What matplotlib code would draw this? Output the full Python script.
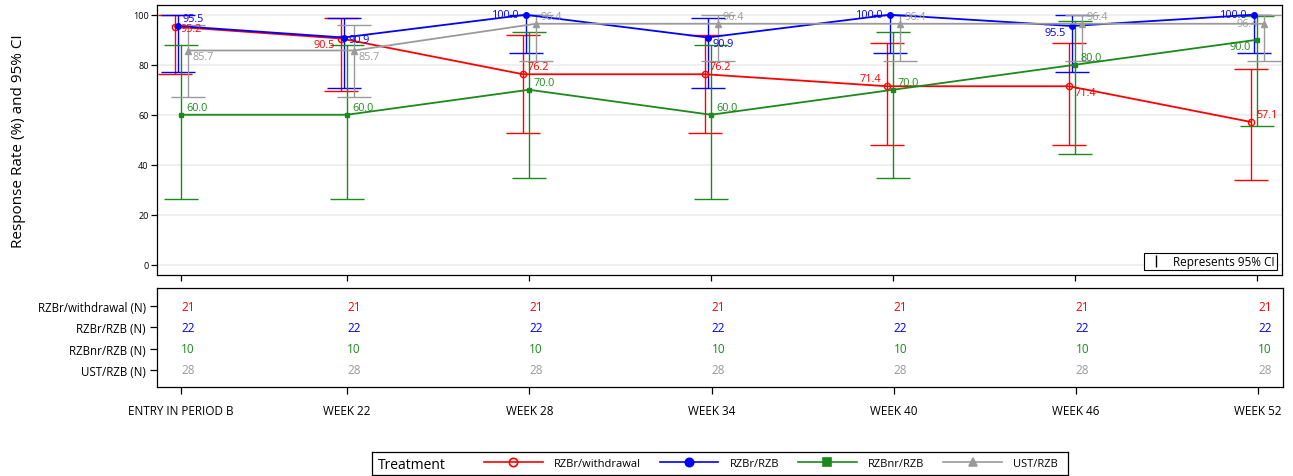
import matplotlib.pyplot as plt
from matplotlib.lines import Line2D
import numpy as np

plt.rcParams['font.family'] = ['Open Sans', 'DejaVu Sans']

visits = ['ENTRY IN PERIOD B', 'WEEK 22', 'WEEK 28', 'WEEK 34', 'WEEK 40', 'WEEK 46', 'WEEK 52']
groups = ['RZBr/withdrawal', 'RZBr/RZB', 'RZBnr/RZB', 'UST/RZB']

# response rate (%) with 95% CI bounds per visit
rate_wd = [95.2, 90.5, 76.2, 76.2, 71.4, 71.4, 57.1]
lo_wd = [76.2, 69.6, 52.8, 52.8, 47.8, 47.8, 34.0]
hi_wd = [99.9, 98.8, 91.8, 91.8, 88.7, 88.7, 78.2]

rate_rzb = [95.5, 90.9, 100.0, 90.9, 100.0, 95.5, 100.0]
lo_rzb = [77.2, 70.8, 84.6, 70.8, 84.6, 77.2, 84.6]
hi_rzb = [99.9, 98.9, 100.0, 98.9, 100.0, 99.9, 100.0]

rate_nr = [60.0, 60.0, 70.0, 60.0, 70.0, 80.0, 90.0]
lo_nr = [26.2, 26.2, 34.8, 26.2, 34.8, 44.4, 55.5]
hi_nr = [87.8, 87.8, 93.3, 87.8, 93.3, 97.5, 99.7]

rate_ust = [85.7, 85.7, 96.4, 96.4, 96.4, 96.4, 96.4]
lo_ust = [67.3, 67.3, 81.7, 81.7, 81.7, 81.7, 81.7]
hi_ust = [96.0, 96.0, 99.9, 99.9, 99.9, 99.9, 99.9]

# number of subjects per visit
n_wd = [21, 21, 21, 21, 21, 21, 21]
n_rzb = [22, 22, 22, 22, 22, 22, 22]
n_nr = [10, 10, 10, 10, 10, 10, 10]
n_ust = [28, 28, 28, 28, 28, 28, 28]

# visit positions: entry sits a bit closer to week 22
xpos = np.r_[0, np.arange(6) + 0.912]

series = [
    dict(rate=rate_wd, lo=lo_wd, hi=hi_wd, n=n_wd, color='#ff0000', marker='o', mfc='none', ms=4.5, off=-0.033,
         place=['r', 'bl', 'ar', 'ar', 'al', 'br', 'ar']),
    dict(rate=rate_rzb, lo=lo_rzb, hi=hi_rzb, n=n_rzb, color='#0000ff', marker='o', mfc='#0000ff', ms=4, off=-0.019,
         place=['ar', 'r', 'l', 'br', 'l', 'bl', 'l']),
    dict(rate=rate_nr, lo=lo_nr, hi=hi_nr, n=n_nr, color='#1a8a1a', marker='s', mfc='#1a8a1a', ms=3, off=0.0,
         place=['ar', 'ar', 'ar', 'ar', 'ar', 'ar', 'bl']),
    dict(rate=rate_ust, lo=lo_ust, hi=hi_ust, n=n_ust, color='#9a9a9a', marker='^', mfc='#9a9a9a', ms=4, off=0.038,
         place=['br', 'br', 'ar', 'ar', 'ar', 'ar', 'l']),
]

# pixel offsets and alignment for the value labels
shift = {
    'r': (5, -2, 'left', 'center'),
    'l': (-6, 0, 'right', 'center'),
    'ar': (5, 2, 'left', 'bottom'),
    'al': (-6, 2, 'right', 'bottom'),
    'br': (5, -1, 'left', 'top'),
    'bl': (-6, -1, 'right', 'top'),
}

fig = plt.figure(figsize=(12.93, 4.77), dpi=100)
ax = fig.add_axes([157 / 1293, 201 / 477, 1125 / 1293, 270 / 477])
axn = fig.add_axes([157 / 1293, 89 / 477, 1126 / 1293, 99 / 477])
lax = fig.add_axes([372 / 1293, 1 / 477, 696 / 1293, 23 / 477])

xlim = (-0.132, 6.049)

for s in series:
    x = xpos + s['off']
    r = np.array(s['rate'])
    yerr = [r - np.array(s['lo']), np.array(s['hi']) - r]
    ax.errorbar(x, r, yerr=yerr, fmt='none', ecolor=s['color'], elinewidth=1.0, capsize=12, capthick=1.0, zorder=2)
    ax.plot(x, r, color=s['color'], lw=1.3, marker=s['marker'], ms=s['ms'], mfc=s['mfc'], mec=s['color'],
            mew=1.0, zorder=3)
    for xi, v, p in zip(x, r, s['place']):
        dx, dy, ha, va = shift[p]
        ax.annotate(f'{v:.1f}', (xi, v), xytext=(dx, dy), textcoords='offset pixels', ha=ha, va=va,
                    fontsize=7.8, color=s['color'], zorder=4)

ax.set_xlim(*xlim)
ax.set_ylim(-4.1, 103.9)
ax.set_yticks(range(0, 101, 20))
ax.set_xticks(xpos)
ax.set_xticklabels([])
ax.tick_params(axis='y', labelsize=6.5, length=4, width=0.9, pad=2)
ax.tick_params(axis='x', length=4, width=0.9)
ax.grid(axis='y', color='#ececec', lw=1.2)
ax.set_axisbelow(True)
ax.set_ylabel('Response Rate (%) and 95% CI', fontsize=11, labelpad=77)
for sp in ax.spines.values():
    sp.set_linewidth(0.9)

# small key explaining the error bars
eb = ax.errorbar([], [], yerr=[], fmt='none', ecolor='black', elinewidth=1.0, capsize=6, capthick=1.0)
ax.legend([eb], ['Represents 95% CI'], loc='lower right', fontsize=8.5, frameon=True, fancybox=False,
          edgecolor='black', framealpha=1, borderpad=0.2, handlelength=1.6, handletextpad=0.7,
          borderaxespad=0.4).get_frame().set_linewidth(0.8)

# subject counts table under the plot
for row, s in enumerate(series):
    for xi, n in zip(xpos, s['n']):
        axn.text(xi, row, str(n), ha='left', va='center', fontsize=8.5, color=s['color'])
axn.set_xlim(*xlim)
axn.set_ylim(3.8, -0.845)
axn.set_yticks(range(4))
axn.set_yticklabels([g + ' (N)' for g in groups], fontsize=8.3)
axn.set_xticks(xpos)
axn.set_xticklabels(visits, fontsize=8.5)
axn.tick_params(axis='y', length=5, width=0.9, pad=3)
axn.tick_params(axis='x', length=5, width=0.9, pad=7)
for sp in axn.spines.values():
    sp.set_linewidth(0.9)

# treatment legend box
handles = [Line2D([], [], color=s['color'], lw=1.2, marker=s['marker'], ms=6, mfc=s['mfc'], mec=s['color'], mew=1.2)
           for s in series]
lax.set_xticks([])
lax.set_yticks([])
for sp in lax.spines.values():
    sp.set_linewidth(0.9)
lax.text(0.009, 0.45, 'Treatment', transform=lax.transAxes, ha='left', va='center', fontsize=10)
lax.legend(handles, groups, ncol=4, loc='center right', frameon=False, fontsize=8, handlelength=5.3,
           handletextpad=1.0, columnspacing=1.7, borderaxespad=0.9, borderpad=0)

fig.savefig('out.png', dpi=100)
